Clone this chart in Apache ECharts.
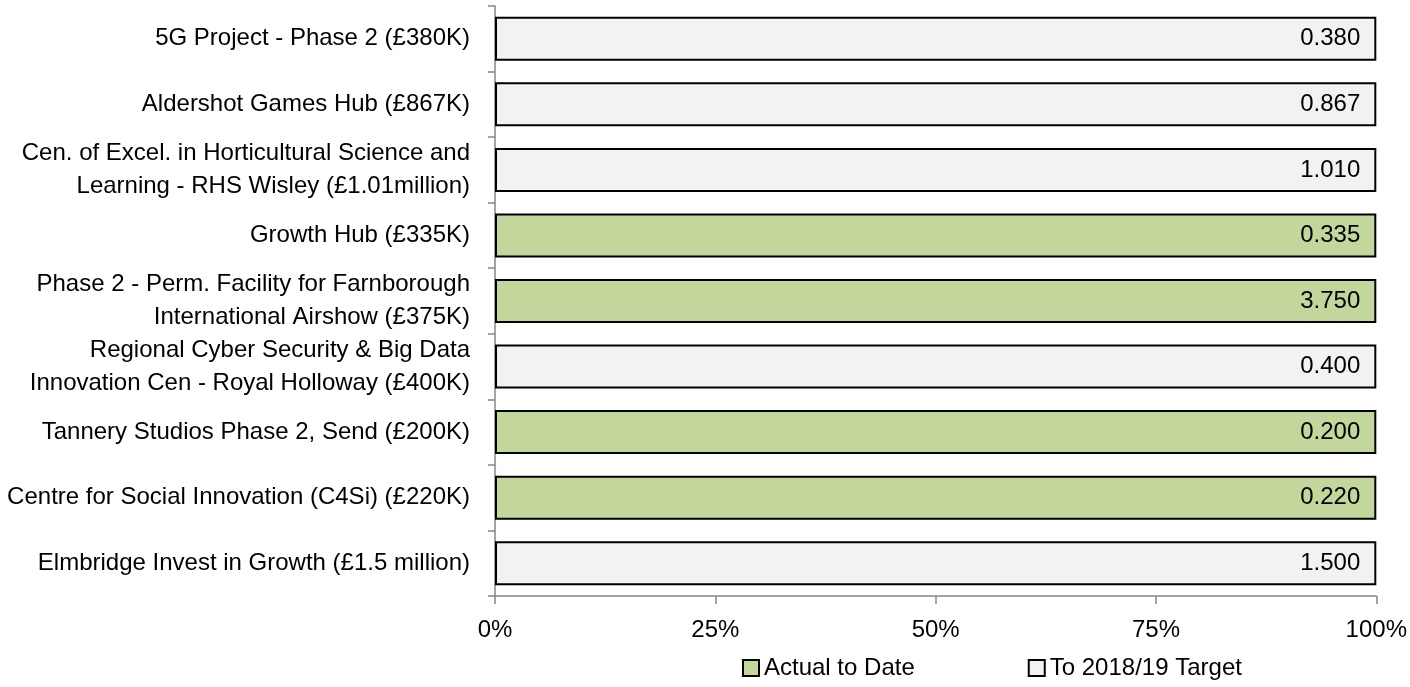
<!DOCTYPE html>
<html><head><meta charset="utf-8">
<script src="https://cdn.jsdelivr.net/npm/echarts@6/dist/echarts.min.js"></script>
<style>html,body{margin:0;padding:0;background:#fff}#c{width:1410px;height:687px}</style>
</head><body><div id="c"></div>
<script>
const categories = [
  "5G Project - Phase 2 (£380K)",
  "Aldershot Games Hub (£867K)",
  "Cen. of Excel. in Horticultural Science and\nLearning - RHS Wisley (£1.01million)",
  "Growth Hub (£335K)",
  "Phase 2 - Perm. Facility for Farnborough\nInternational Airshow (£375K)",
  "Regional Cyber Security & Big Data\nInnovation Cen - Royal Holloway (£400K)",
  "Tannery Studios Phase 2, Send (£200K)",
  "Centre for Social Innovation (C4Si) (£220K)",
  "Elmbridge Invest in Growth (£1.5 million)"
];
const actualToDate = [0, 0, 0, 0.335, 3.750, 0, 0.200, 0.220, 0];
const toTarget     = [0.380, 0.867, 1.010, 0, 0, 0.400, 0, 0, 1.500];
const xTickLabels = ["0%", "25%", "50%", "75%", "100%"];

const FONT = "'Liberation Sans', Arial, sans-serif";
const FS = 24;
function pct(arr, i) {
  const tot = actualToDate[i] + toTarget[i];
  if (!arr[i]) return null;
  return { value: arr[i] / tot * 100, raw: arr[i] };
}
const actData = actualToDate.map((v, i) => pct(actualToDate, i));
const tgtData = toTarget.map((v, i) => pct(toTarget, i));

const labelCfg = {
  show: true, position: 'insideRight', distance: 16,
  color: '#000', fontFamily: FONT, fontSize: FS,
  formatter: p => p.data && p.data.raw != null ? p.data.raw.toFixed(3) : ''
};

const chart = echarts.init(document.getElementById('c'), null, {renderer: 'canvas'});
chart.setOption({
  animation: false,
  grid: { left: 495, right: 32, top: 6, bottom: 91, containLabel: false },
  legend: {
    top: 651, left: 737, itemGap: 113, itemWidth: 16, itemHeight: 16,
    icon: 'rect',
    textStyle: { fontFamily: FONT, fontSize: FS, color: '#000' },
    data: ['Actual to Date', 'To 2018/19 Target']
  },
  xAxis: {
    type: 'value', min: 0, max: 100, interval: 25,
    axisLine: { show: true, lineStyle: { color: '#868686', width: 1.5 } },
    axisTick: { show: true, length: 8, lineStyle: { color: '#868686', width: 1.5 } },
    splitLine: { show: false },
    axisLabel: {
      margin: 22, color: '#000', fontFamily: FONT, fontSize: FS,
      formatter: v => xTickLabels[Math.round(v / 25)]
    }
  },
  yAxis: {
    type: 'category', inverse: true, data: categories,
    axisLine: { show: true, lineStyle: { color: '#868686', width: 1.5 } },
    axisTick: { show: true, length: 7, lineStyle: { color: '#868686', width: 1.5 } },
    axisLabel: {
      margin: 25, color: '#000', fontFamily: FONT, fontSize: FS,
      lineHeight: 33, align: 'right'
    }
  },
  series: [
    {
      name: 'Actual to Date', type: 'bar', stack: 'a', barWidth: 44,
      data: actData,
      itemStyle: { color: '#c3d69b', borderColor: '#000', borderWidth: 2 },
      label: labelCfg
    },
    {
      name: 'To 2018/19 Target', type: 'bar', stack: 'a', barWidth: 44,
      data: tgtData,
      itemStyle: { color: '#f2f2f2', borderColor: '#000', borderWidth: 2 },
      label: labelCfg
    }
  ]
});
</script>
</body></html>
